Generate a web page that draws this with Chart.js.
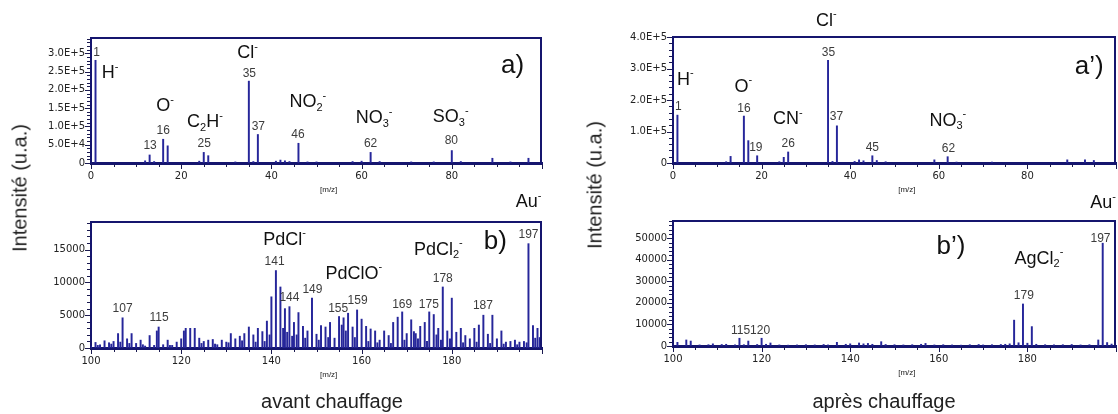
<!DOCTYPE html>
<html lang="fr">
<head>
<meta charset="UTF-8" />
<title>Spectres ToF-SIMS</title>
<script src="https://cdn.jsdelivr.net/npm/chart.js"></script>
<style>
  body { margin: 0; background: #fff; font-family: "Liberation Sans", Arial, sans-serif; }
  #fig { position: relative; width: 1118px; height: 414px; overflow: hidden; background: #fff; }
  canvas { position: absolute; }
  .lab { position: absolute; font-size: 20px; color: #222; white-space: nowrap; transform: translate(-50%, -50%); }
  .rot { transform: translate(-50%, -50%) rotate(-90deg); }
</style>
</head>
<body>
<div id="fig">
  <canvas id="cA"  width="560" height="200" style="left:0;top:0"></canvas>
  <canvas id="cB"  width="560" height="229" style="left:0;top:185px"></canvas>
  <canvas id="cA2" width="558" height="200" style="left:560px;top:0"></canvas>
  <canvas id="cB2" width="558" height="229" style="left:560px;top:185px"></canvas>
  <div class="lab rot" style="left:20px;top:188px">Intensité (u.a.)</div>
  <div class="lab rot" style="left:595px;top:185px">Intensité (u.a.)</div>
  <div class="lab" style="left:332px;top:401px">avant chauffage</div>
  <div class="lab" style="left:884px;top:401px">après chauffage</div>
</div>

<script>
// a) avant chauffage, m/z 0-100
const aMz  = [1, 12, 13, 14, 16, 17, 24, 25, 26, 32, 35, 36, 37, 41, 42, 43, 44, 46, 48, 50, 58, 60, 62, 64, 71, 76, 80, 82, 89, 93, 97];
const aInt = [281000, 6000, 22000, 4000, 65000, 47000, 5000, 29000, 20000, 3000, 224000, 4000, 78000, 5000, 8000, 6000, 4000, 54000, 3000, 3000, 4000, 5000, 29000, 4000, 3000, 3000, 34000, 4000, 13000, 3000, 13000];

// b) avant chauffage, m/z 100-200
const bMz = [];
for (let m = 100; m <= 199; m++) bMz.push(m);
const bInt = [
  300, 850, 500, 1100, 800, 1000, 2200, 4600, 1400, 2200,
  700, 1200, 300, 1900, 400, 3200, 500, 1200, 400, 900,
  1400, 3000, 3000, 3000, 1500, 1000, 1200, 1300, 500, 1200,
  900, 2200, 1400, 1800, 2200, 3200, 2000, 3000, 2500, 4100,
  7800, 11800, 9300, 6000, 6300, 3900, 5400, 3300, 2600, 7600,
  2100, 3400, 3200, 3900, 1500, 4800, 4600, 5300, 3200, 5800,
  4400, 3300, 2900, 2600, 1200, 2600, 1900, 3900, 4700, 5500,
  2200, 4300, 2200, 3300, 3900, 5500, 5100, 3000, 9300, 2600,
  7600, 2400, 3000, 1900, 1400, 3000, 3500, 5000, 2100, 5000,
  1400, 2600, 900, 1000, 1200, 900, 1000, 15900, 3400, 3000
];
// secondary (mass defect) peaks in b)
const bMz2  = [101.5, 104.5, 106.5, 108.5, 111.5, 114.6, 117.5, 120.6, 124.5, 127.5, 130.5, 133.5, 136.5, 138.5, 139.6, 142.6, 143.5, 144.6, 145.6, 147.5, 150.5, 152.6, 155.6, 156.5, 158.5, 161.5, 163.5, 166.5, 169.5, 171.6, 172.5, 174.5, 176.6, 177.6, 179.6, 182.5, 185.5, 188.5, 191.5, 194.5, 196.6, 198.5, 199.5];
const bInt2 = [400, 600, 900, 700, 500, 2600, 400, 2600, 700, 600, 800, 1100, 900, 1000, 2000, 3000, 2400, 1800, 2000, 1500, 1200, 1600, 3500, 2600, 1600, 1000, 800, 700, 1200, 2500, 1400, 1000, 2000, 1200, 1400, 800, 900, 700, 600, 500, 800, 1500, 1600];

// a') après chauffage, m/z 0-100
const a2Mz  = [1, 12, 13, 16, 17, 19, 24, 25, 26, 35, 36, 37, 41, 42, 43, 45, 46, 48, 59, 62, 64, 72, 89, 93, 95];
const a2Int = [152000, 4000, 21000, 149000, 71000, 23000, 4000, 18000, 35000, 326000, 5000, 118000, 5000, 10000, 7000, 23000, 8000, 4000, 10000, 20000, 3000, 3000, 10000, 10000, 8000];

// b') après chauffage, m/z 100-200
const b2Mz  = [101, 103, 104, 106, 108, 109, 111, 112, 114, 115, 116, 117, 119, 120, 121, 122, 124, 126, 128, 130, 132, 134, 135, 137, 139, 140, 142, 143, 144, 145, 147, 148, 150, 152, 154, 156, 157, 159, 161, 163, 165, 167, 169, 170, 172, 174, 175, 176, 177, 178, 179, 180, 181, 182, 184, 186, 188, 190, 192, 194, 196, 197, 198, 199];
const b2Int = [1700, 2800, 2300, 500, 600, 1000, 700, 800, 500, 3600, 600, 2300, 700, 3600, 800, 1400, 500, 400, 500, 600, 500, 700, 500, 1700, 800, 1000, 1400, 1000, 1200, 800, 2000, 700, 600, 500, 600, 800, 1200, 500, 600, 500, 400, 600, 700, 500, 600, 700, 800, 1000, 12000, 1500, 19500, 1300, 9000, 800, 600, 500, 600, 700, 500, 600, 2800, 47700, 1600, 900];

// labels: [kind, text, m/z, intensity, align]
const notesA = [
  ['num', '1', 0.5, 302700, 'left'], ['num', '13', 13.1, 46400], ['num', '16', 16, 87300],
  ['num', '25', 25.1, 51800], ['num', '35', 35.1, 245400], ['num', '37', 37.1, 98200],
  ['num', '46', 45.9, 76400], ['num', '62', 62, 51800], ['num', '80', 79.9, 60000],
  ['ion', 'H^-', 2.4, 245000, 'left'], ['ion', 'O^-', 16.4, 155400, 'center'],
  ['ion', 'C_2H^-', 21.3, 111800, 'left'], ['ion', 'Cl^-', 34.7, 300000, 'center'],
  ['ion', 'NO_2^-', 44, 166000, 'left'], ['ion', 'NO_3^-', 58.7, 122700, 'left'],
  ['ion', 'SO_3^-', 75.8, 125400, 'left'], ['tag', 'a)', 90.9, 264500, 'left']
];
const notesB = [
  ['num', '107', 107, 6000], ['num', '115', 115.1, 4600], ['num', '141', 140.7, 13200],
  ['num', '144', 144, 7650], ['num', '149', 149.1, 8900], ['num', '155', 154.8, 6000],
  ['num', '159', 159.1, 7200], ['num', '169', 169, 6600], ['num', '175', 174.9, 6600],
  ['num', '178', 178, 10560], ['num', '187', 186.9, 6430], ['num', '197', 197, 17300],
  ['ion', 'PdCl^-', 138.2, 16500, 'left'], ['ion', 'PdClO^-', 152, 11330, 'left'],
  ['ion', 'PdCl_2^-', 171.6, 15000, 'left'], ['ion', 'Au^-', 194.2, 22200, 'left'],
  ['tag', 'b)', 187.1, 16230, 'left']
];
const notesA2 = [
  ['num', '1', 0.45, 178600, 'left'], ['num', '16', 16, 173500], ['num', '19', 18.7, 49800],
  ['num', '26', 26, 61500], ['num', '35', 35.1, 351100], ['num', '37', 36.9, 147000],
  ['num', '45', 45, 49200], ['num', '62', 62.2, 46000],
  ['ion', 'H^-', 0.9, 264400, 'left'], ['ion', 'O^-', 15.9, 241700, 'center'],
  ['ion', 'CN^-', 22.6, 139800, 'left'], ['ion', 'Cl^-', 34.6, 452100, 'center'],
  ['ion', 'NO_3^-', 57.9, 133500, 'left'], ['tag', 'a\u2019)', 90.7, 304800, 'left']
];
const notesB2 = [
  ['num', '197', 196.5, 49700], ['num', '179', 179.2, 23200], ['num', '115120', 117.5, 6960],
  ['ion', 'Au^-', 194.2, 66160, 'left'], ['ion', 'AgCl_2^-', 177.1, 40400, 'left'],
  ['tag', 'b\u2019)', 159.5, 46000, 'left']
];

const FONT = '"Liberation Sans", Arial, sans-serif';
const NAVY = '#15156e';
const BAR = '#26269a';

function drawRich(ctx, str, x, y, size, align) {
  const runs = [];
  for (let i = 0; i < str.length; i++) {
    const c = str[i];
    if ((c === '_' || c === '^') && i + 1 < str.length) { runs.push({ t: str[i + 1], k: c }); i++; }
    else runs.push({ t: c, k: '' });
  }
  const small = Math.round(size * 0.62);
  let w = 0;
  runs.forEach(r => {
    ctx.font = (r.k ? small : size) + 'px ' + FONT;
    r.w = ctx.measureText(r.t).width;
    w += r.w;
  });
  let cx = align === 'center' ? x - w / 2 : x;
  runs.forEach(r => {
    ctx.font = (r.k ? small : size) + 'px ' + FONT;
    const dy = r.k === '_' ? size * 0.3 : (r.k === '^' ? -size * 0.36 : 0);
    ctx.fillText(r.t, cx, y + dy);
    cx += r.w;
  });
}

function notesPlugin(list, mzLabel, xMajor, yMajor) {
  return {
    id: 'notes',
    afterDraw(chart) {
      const ctx = chart.ctx, xs = chart.scales.x, ys = chart.scales.y, area = chart.chartArea;
      ctx.save();
      // tick marks (major longer than minor)
      ctx.strokeStyle = '#1a1a50';
      ctx.lineWidth = 1;
      ctx.beginPath();
      ys.ticks.forEach(t => {
        const y = Math.round(ys.getPixelForValue(t.value)) + 0.5;
        const len = t.value % yMajor === 0 ? 5 : 3;
        ctx.moveTo(area.left - 1 - len, y);
        ctx.lineTo(area.left - 1, y);
      });
      xs.ticks.forEach(t => {
        const x = Math.round(xs.getPixelForValue(t.value)) + 0.5;
        const len = t.value % xMajor === 0 ? 5 : 3;
        ctx.moveTo(x, area.bottom + 1);
        ctx.lineTo(x, area.bottom + 1 + len);
      });
      ctx.stroke();
      // frame top and right
      ctx.strokeStyle = NAVY;
      ctx.lineWidth = 2;
      ctx.beginPath();
      ctx.moveTo(area.left, area.top);
      ctx.lineTo(area.right - 1, area.top);
      ctx.lineTo(area.right - 1, area.bottom);
      ctx.stroke();
      ctx.textBaseline = 'middle';
      list.forEach(n => {
        const [kind, text, mz, val, align] = n;
        const px = xs.getPixelForValue(mz), py = ys.getPixelForValue(val);
        if (kind === 'num') {
          ctx.fillStyle = '#3c3c3c';
          ctx.font = '12px ' + FONT;
          ctx.textAlign = align || 'center';
          ctx.fillText(text, px, py);
        } else {
          ctx.fillStyle = '#111';
          ctx.textAlign = 'left';
          drawRich(ctx, text, px, py, kind === 'tag' ? 26 : 18, align);
        }
      });
      ctx.fillStyle = '#222';
      ctx.font = '8px ' + FONT;
      ctx.textAlign = 'center';
      ctx.fillText('[m/z]', xs.getPixelForValue(mzLabel), area.bottom + 27);
      ctx.restore();
    }
  };
}

// fixed tick positions: every `step` from lo to hi
function stepTicks(lo, hi, step) {
  return s => {
    const t = [];
    for (let v = lo; v <= hi + 1e-9; v += step) t.push({ value: v });
    s.ticks = t;
  };
}

function makeChart(id, opt) {
  const pts = [];
  opt.series.forEach(s => s[0].forEach((m, i) => pts.push({ x: m, y: s[1][i] })));
  const xmax = opt.xmin + 100;
  return new Chart(document.getElementById(id), {
    type: 'bar',
    data: { datasets: [{ data: pts, backgroundColor: BAR, borderWidth: 0, barThickness: 1.3 }] },
    options: {
      responsive: false,
      animation: false,
      devicePixelRatio: 1,
      layout: { padding: { top: opt.top, right: opt.right, left: 0, bottom: 0 } },
      plugins: { legend: { display: false }, tooltip: { enabled: false } },
      scales: {
        x: {
          type: 'linear', min: opt.xmin, max: xmax, offset: false,
          afterBuildTicks: stepTicks(opt.xmin, xmax, 5),
          afterFit(s) { s.height = opt.xh; },
          grid: { drawOnChartArea: false, drawTicks: true, tickLength: 5, color: 'rgba(0,0,0,0)', offset: false },
          border: { display: true, color: NAVY, width: 3 },
          ticks: {
            autoSkip: false, maxRotation: 0, padding: 2,
            color: '#222', font: { family: 'DejaVu Sans', size: 10 },
            callback: v => (v % 20 === 0 && v < xmax) ? String(v) : ''
          }
        },
        y: {
          min: 0, max: opt.ymax,
          afterBuildTicks: stepTicks(0, opt.ymax, opt.minor),
          afterFit(s) { s.width = opt.yw; },
          grid: { drawOnChartArea: false, drawTicks: true, tickLength: 5, color: 'rgba(0,0,0,0)' },
          border: { display: true, color: NAVY, width: 2 },
          ticks: {
            autoSkip: false, padding: 1,
            color: '#222', font: { family: 'DejaVu Sans', size: 10 },
            callback: v => (v % opt.major === 0) ? opt.fmt(v) : ''
          }
        }
      }
    },
    plugins: [notesPlugin(opt.notes, opt.mzLabel, 20, opt.major)]
  });
}

const expFmt = v => v === 0 ? '0' : v.toExponential(1).toUpperCase();
const plainFmt = v => String(v);

makeChart('cA', {
  series: [[aMz, aInt]], xmin: 0, ymax: 342000, minor: 10000, major: 50000, fmt: expFmt,
  top: 38, right: 18, yw: 91, xh: 37, notes: notesA, mzLabel: 52.7
});
makeChart('cB', {
  series: [[bMz, bInt], [bMz2, bInt2]], xmin: 100, ymax: 19200, minor: 1000, major: 5000, fmt: plainFmt,
  top: 37, right: 18, yw: 91, xh: 66, notes: notesB, mzLabel: 152.7
});
makeChart('cA2', {
  series: [[a2Mz, a2Int]], xmin: 0, ymax: 400000, minor: 20000, major: 100000, fmt: expFmt,
  top: 37, right: 1, yw: 113, xh: 37, notes: notesA2, mzLabel: 52.8
});
makeChart('cB2', {
  series: [[b2Mz, b2Int]], xmin: 100, ymax: 58000, minor: 2000, major: 10000, fmt: plainFmt,
  top: 36, right: 1, yw: 113, xh: 68, notes: notesB2, mzLabel: 152.8
});
</script>
</body>
</html>
